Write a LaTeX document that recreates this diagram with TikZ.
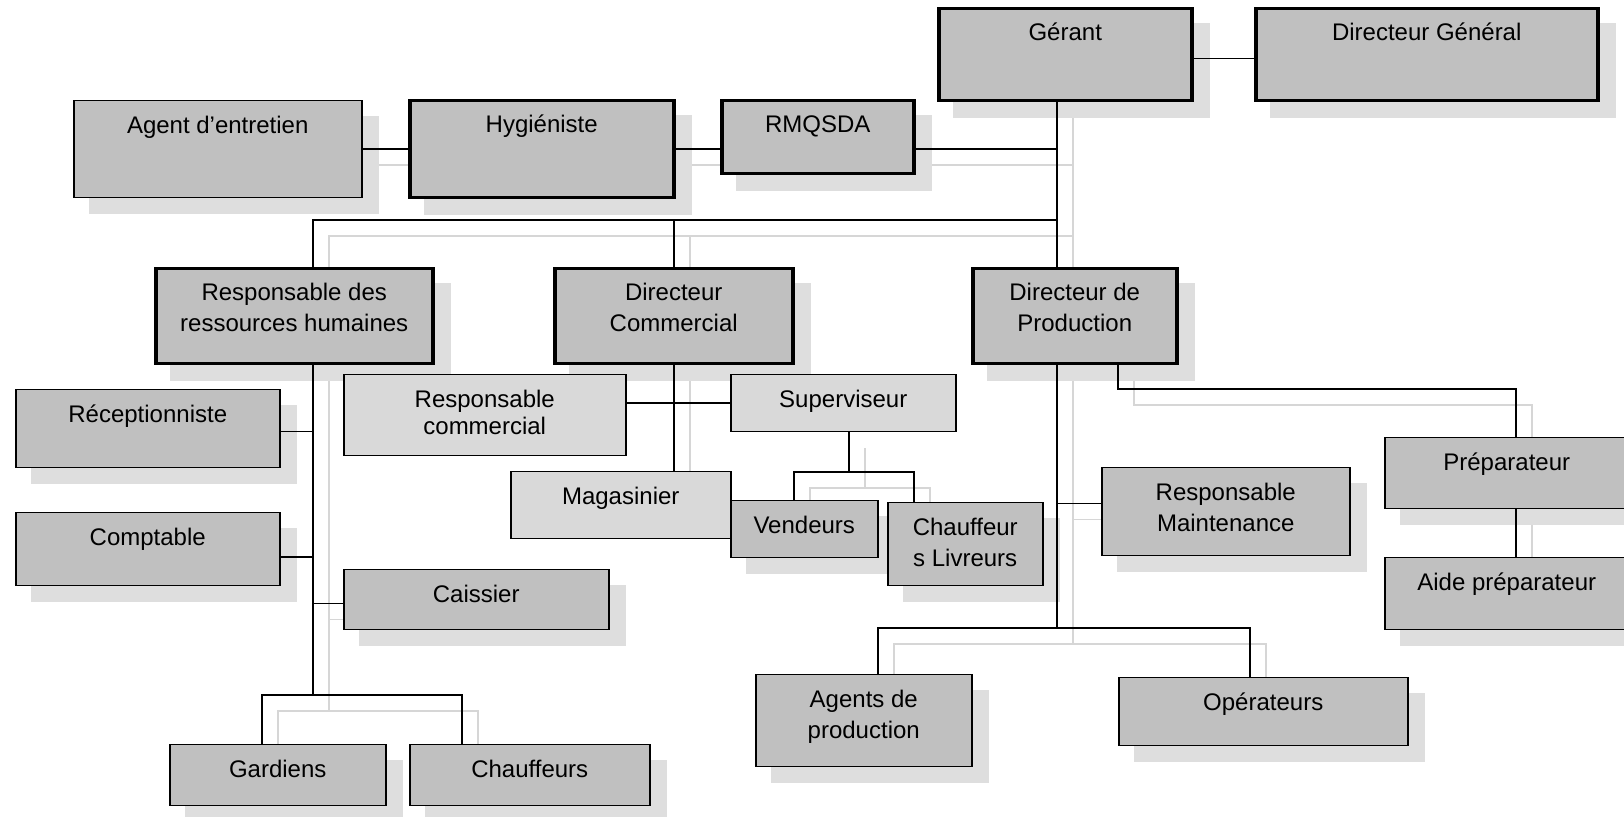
\documentclass[tikz,border=0pt]{standalone}
\usepackage{fontspec}
\setmainfont{Liberation Sans}
\usepackage{tikz}
\usetikzlibrary{positioning}
\usepackage{xcolor}
\definecolor{boxgray}{HTML}{C0C0C0}
\definecolor{boxlight}{HTML}{D9D9D9}
\definecolor{shadowgray}{HTML}{DEDEDE}
\definecolor{shadowline}{HTML}{D6D6D6}
\pgfdeclarelayer{shadowlines}
\pgfdeclarelayer{shadowboxes}
\pgfdeclarelayer{lines}
\pgfsetlayers{shadowlines,shadowboxes,lines,main}
\newcommand{\boxtext}[1]{\begin{tabular}[t]{@{}c@{}}#1\end{tabular}}
% connectors of the chart that carry a shadow
\newcommand{\orglinks}{%
  \draw[orgline] (agent.east) -- (agent.east -| hyg.west);
  \draw[orgline] (agent.east -| hyg.east) -- (agent.east -| rmq.west);
  \draw[orgline] (agent.east -| rmq.east) -- (agent.east -| gtrunk);
  \draw[orgline] (gerant.south -| gtrunk) -- (dirprod.north -| gtrunk);
  \draw[orgline] (gtrunk) -- (rhtrunk) -- (rh.north -| rhtrunk);
  \draw[orgline] (dircom.north |- gtrunk) -- (dircom.north);
  % human resources branch
  \draw[orgline] (rh.south -| rhtrunk) -- (rhfork);
  \draw[orgline] ([yshift=-2pt]caissier.west) -- ([yshift=-2pt]caissier.west -| rhfork);
  \draw[orgline] ([xshift=-8pt]gardiens.north) |- (rhfork) -| ([xshift=-34pt]chauffeurs.north);
  % commercial branch
  \draw[orgline] (dircom.south) -- (dircom.south |- magas.north);
  \draw[orgline] (superv.south -| supfork) -- (supfork);
  \draw[orgline] ([xshift=-5.25pt]vendeurs.north) |- (supfork) -| ([xshift=-25.75pt]chliv.north);
  % production branch
  \draw[orgline] (dirprod.south -| prodfork) -- (prodfork);
  \draw[orgline] ([yshift=4pt]respmaint.west -| prodfork) -- ([yshift=4pt]respmaint.west);
  \draw[orgline] ([xshift=7pt]agentsprod.north) |- (prodfork) -| ([xshift=-6.75pt]operateurs.north);
  \draw[orgline] (dirprod.south -| prepbend) -- (prepbend) -| ([xshift=4.5pt]prep.north);
  \draw[orgline] ([xshift=4.5pt]prep.south) -- ([xshift=4.5pt]aide.north);
}
\begin{document}
\begin{tikzpicture}[
   x=0.5pt,y=-0.5pt,
   box/.style={draw,fill=boxgray,line width=0.75pt,inner sep=0pt,anchor=north west},
   headbox/.style={box,line width=1.75pt},
   lightbox/.style={box,fill=boxlight},
   boxlabel/.style={anchor=base,yshift=-16.75pt,inner sep=0pt,
     font=\fontsize{12pt}{15.5pt}\selectfont}]
  \useasboundingbox (0,0) rectangle (1624,817);
  % management
  \node[headbox,minimum width=126.5pt,minimum height=46pt,label={[boxlabel]north:Gérant}] (gerant) at (937,7) {};
  \node[headbox,minimum width=171pt,minimum height=46pt,label={[boxlabel]north:Directeur Général}] (dg) at (1254,7) {};
  \node[box,minimum width=144pt,minimum height=48.5pt,label={[boxlabel]north:Agent d’entretien}] (agent) at (73,100) {};
  \node[headbox,minimum width=132pt,minimum height=48.5pt,label={[boxlabel]north:Hygiéniste}] (hyg) at (408,99) {};
  \node[headbox,minimum width=96pt,minimum height=36.5pt,label={[boxlabel]north:RMQSDA}] (rmq) at (720,99) {};
  % directors
  \node[headbox,minimum width=138.5pt,minimum height=47.5pt,label={[boxlabel]north:{\boxtext{Responsable des\\ressources humaines}}}] (rh) at (154,267) {};
  \node[headbox,minimum width=119pt,minimum height=47.5pt,label={[boxlabel]north:{\boxtext{Directeur\\Commercial}}}] (dircom) at (553,267) {};
  \node[headbox,minimum width=102pt,minimum height=47.5pt,label={[boxlabel]north:{\boxtext{Directeur de\\Production}}}] (dirprod) at (971,267) {};
  % human resources staff
  \node[box,minimum width=132pt,minimum height=39pt,label={[boxlabel]north:Réceptionniste}] (recep) at (15,389) {};
  \node[box,minimum width=132pt,minimum height=36.5pt,label={[boxlabel]north:Comptable}] (compt) at (15,512) {};
  \node[box,minimum width=132.5pt,minimum height=30pt,label={[boxlabel]north:Caissier}] (caissier) at (343,569) {};
  \node[box,minimum width=108pt,minimum height=30.5pt,label={[boxlabel]north:Gardiens}] (gardiens) at (169,744) {};
  \node[box,minimum width=120pt,minimum height=30.5pt,label={[boxlabel]north:Chauffeurs}] (chauffeurs) at (409,744) {};
  % commercial staff
  \node[lightbox,minimum width=141pt,minimum height=40.5pt,label={[boxlabel]north:{\boxtext{Responsable\\[-2pt]commercial}}}] (respcom) at (343,374) {};
  \node[lightbox,minimum width=112.5pt,minimum height=28.5pt,label={[boxlabel]north:Superviseur}] (superv) at (730,374) {};
  \node[lightbox,minimum width=110pt,minimum height=33.5pt,label={[boxlabel]north:Magasinier}] (magas) at (510,471) {};
  \node[box,minimum width=73.5pt,minimum height=28.5pt,label={[boxlabel]north:Vendeurs}] (vendeurs) at (730,500) {};
  \node[box,minimum width=77.5pt,minimum height=41.5pt,label={[boxlabel]north:{\boxtext{Chauffeur\\s Livreurs}}}] (chliv) at (887,502) {};
  % production staff
  \node[box,minimum width=124pt,minimum height=44pt,label={[boxlabel]north:{\boxtext{Responsable\\Maintenance}}}] (respmaint) at (1101,467) {};
  \node[box,minimum width=122pt,minimum height=35.5pt,label={[boxlabel]north:Préparateur}] (prep) at (1384,437) {};
  \node[box,minimum width=122pt,minimum height=36pt,label={[boxlabel]north:Aide préparateur}] (aide) at (1384,557) {};
  \node[box,minimum width=108pt,minimum height=46pt,label={[boxlabel]north:{\boxtext{Agents de\\production}}}] (agentsprod) at (755,674) {};
  \node[box,minimum width=144.5pt,minimum height=34pt,label={[boxlabel]north:Opérateurs}] (operateurs) at (1118,677) {};
  % junctions of the connectors
  \coordinate (gtrunk) at (1057,220);
  \coordinate (rhtrunk) at (313,220);
  \coordinate (rhfork) at (313,695);
  \coordinate (supfork) at (849,472);
  \coordinate (prodfork) at (1057,628);
  \coordinate (prepbend) at (1118,389);
  % box shadows
  \begin{pgfonlayer}{shadowboxes}
    \foreach \b in {gerant,dg,agent,hyg,rmq,rh,dircom,dirprod,recep,compt,caissier,
                    gardiens,chauffeurs,vendeurs,chliv,respmaint,prep,aide,agentsprod,operateurs}
      \fill[shadowgray] ([shift={(16,16)}]\b.north west) rectangle ([shift={(16,16)}]\b.south east);
  \end{pgfonlayer}
  % connector shadows
  \begin{pgfonlayer}{shadowlines}
    \begin{scope}[transform canvas={shift={(16,16)}},orgline/.style={draw=shadowline,line width=0.75pt}]
      \orglinks
    \end{scope}
  \end{pgfonlayer}
  % connectors
  \begin{pgfonlayer}{lines}
    \begin{scope}[orgline/.style={draw=black,line width=0.75pt}]
      \orglinks
      \draw[orgline] ([yshift=-2pt]gerant.east) -- ([yshift=-2pt]gerant.east -| dg.west);
      \draw[orgline] ([yshift=-1.5pt]recep.east) -- ([yshift=-1.5pt]recep.east -| rhfork);
      \draw[orgline] ([yshift=-4pt]compt.east) -- ([yshift=-4pt]compt.east -| rhfork);
      \draw[orgline] (superv.west -| respcom.east) -- (superv.west);
    \end{scope}
  \end{pgfonlayer}
\end{tikzpicture}
\end{document}
